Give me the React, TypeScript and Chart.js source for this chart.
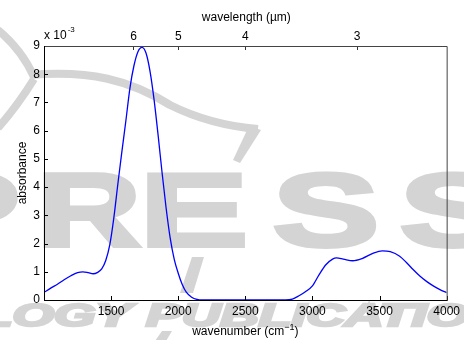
import { useEffect, useRef } from "react";
import { Chart, registerables } from "chart.js";

Chart.register(...registerables);

// wavenumber (cm^-1) and absorbance (x 10^-3)
const wavenumber = [
  1000, 1050, 1100, 1150, 1200, 1250, 1290, 1330, 1366, 1400, 1430, 1460, 1490, 1520, 1550, 1580,
  1610, 1640, 1670, 1700, 1730, 1760, 1790, 1820, 1850, 1880, 1910, 1940, 1970, 2000, 2030, 2060,
  2100, 2140, 2180, 2400, 2700, 2800, 2850, 2900, 2950, 3000, 3050, 3100, 3150, 3180, 3230, 3300,
  3370, 3450, 3520, 3580, 3650, 3700, 3750, 3800, 3850, 3900, 3950, 4000,
];
const absorbance = [
  0.27, 0.42, 0.56, 0.72, 0.86, 0.97, 1.0, 0.97, 0.93, 0.98, 1.1, 1.4, 1.95, 2.9, 4.1, 5.25,
  6.35, 7.5, 8.3, 8.8, 8.95, 8.75, 8.1, 7.1, 5.85, 4.5, 3.25, 2.2, 1.45, 0.95, 0.55, 0.28,
  0.1, 0.02, 0, 0, 0, 0, 0.03, 0.15, 0.3, 0.5, 0.9, 1.25, 1.45, 1.49, 1.45, 1.39,
  1.47, 1.65, 1.74, 1.71, 1.55, 1.33, 1.08, 0.85, 0.66, 0.5, 0.37, 0.26,
];
const wavenumberTicks = [1500, 2000, 2500, 3000, 3500, 4000];
const wavelengthTicks = [6, 5, 4, 3];
const absorbanceTicks = [0, 1, 2, 3, 4, 5, 6, 7, 8, 9];

const FONT = "'Liberation Sans', Arial, Helvetica, sans-serif";
const WM = "rgb(212,212,212)";

function stretched(
  ctx: CanvasRenderingContext2D,
  text: string,
  measureText: string,
  left: number,
  right: number,
  baseline: number,
  thicken: number
) {
  const m = ctx.measureText(measureText);
  const inkL = -m.actualBoundingBoxLeft;
  const inkR = m.actualBoundingBoxRight;
  const sx = (right - left) / (inkR - inkL);
  ctx.save();
  ctx.translate(left - inkL * sx, baseline);
  ctx.scale(sx, 1);
  ctx.fillText(text, 0, 0);
  if (thicken > 0) {
    ctx.lineWidth = thicken;
    ctx.lineJoin = "miter";
    ctx.strokeText(text, 0, 0);
  }
  ctx.restore();
}

export default function App() {
  const ref = useRef<HTMLCanvasElement>(null);

  useEffect(() => {
    const canvas = ref.current!;

    const decor = {
      id: "decor",
      beforeDraw(chart: any) {
        const ctx: CanvasRenderingContext2D = chart.ctx;
        ctx.save();
        ctx.fillStyle = "#fff";
        ctx.fillRect(0, 0, chart.width, chart.height);
        // watermark
        ctx.fillStyle = WM;
        ctx.strokeStyle = WM;
        ctx.textAlign = "left";
        ctx.textBaseline = "alphabetic";
        ctx.font = `bold 104px ${FONT}`;
        const letters: [string, number, number][] = [
          ["P", -75, 17],
          ["R", 43, 140],
          ["E", 147, 245],
          ["S", 275, 376],
          ["S", 402, 503],
        ];
        for (const [t, l, r] of letters) stretched(ctx, t, t, l + 2, r - 2, 246, 4);
        ctx.font = `italic bold 31px ${FONT}`;
        stretched(ctx, "LOGY PUBLICATIONS", "LOGY PUBLICATIO", -20, 468, 326, 2.5);
        // swoosh
        ctx.lineWidth = 8;
        ctx.lineCap = "butt";
        ctx.beginPath();
        ctx.moveTo(-2, 30);
        ctx.quadraticCurveTo(22, 50, 34, 77);
        ctx.stroke();
        ctx.beginPath();
        ctx.moveTo(34, 79);
        ctx.quadraticCurveTo(18, 105, -2, 128);
        ctx.stroke();
        ctx.beginPath();
        ctx.moveTo(30, 75);
        ctx.bezierCurveTo(90, 70, 130, 80, 170, 105);
        ctx.quadraticCurveTo(210, 125, 258, 129);
        ctx.stroke();
        ctx.beginPath();
        ctx.moveTo(249, 126);
        ctx.lineTo(261, 130);
        ctx.lineTo(240, 163);
        ctx.lineTo(233, 160);
        ctx.closePath();
        ctx.fill();
        ctx.beginPath();
        ctx.moveTo(192, 257);
        ctx.lineTo(204, 257);
        ctx.lineTo(193, 293);
        ctx.lineTo(180, 293);
        ctx.closePath();
        ctx.fill();
        ctx.beginPath();
        ctx.moveTo(162, 331);
        ctx.lineTo(172, 331);
        ctx.lineTo(166, 341);
        ctx.lineTo(155, 341);
        ctx.closePath();
        ctx.fill();
        ctx.restore();
      },
      afterDraw(chart: any) {
        const ctx: CanvasRenderingContext2D = chart.ctx;
        const { left, right, top, bottom } = chart.chartArea;
        const xs = chart.scales.x;
        const xt = chart.scales.x2;
        const ys = chart.scales.y;
        ctx.save();
        // ticks (inside)
        ctx.lineWidth = 1;
        ctx.strokeStyle = "#000";
        ctx.beginPath();
        for (const t of xs.ticks) {
          const px = Math.round(xs.getPixelForValue(t.value)) + 0.5;
          ctx.moveTo(px, bottom);
          ctx.lineTo(px, bottom - 4);
        }
        for (const t of ys.ticks) {
          const py = Math.round(ys.getPixelForValue(t.value)) + 0.5;
          ctx.moveTo(left, py);
          ctx.lineTo(left + 4, py);
        }
        ctx.stroke();
        ctx.strokeStyle = "#333";
        ctx.beginPath();
        for (const t of xt.ticks) {
          const px = Math.round(xt.getPixelForValue(t.value)) + 0.5;
          ctx.moveTo(px, top);
          ctx.lineTo(px, top + 4);
        }
        ctx.stroke();
        // box
        ctx.strokeStyle = "#444";
        ctx.beginPath();
        ctx.moveTo(left, top + 0.5);
        ctx.lineTo(right + 0.5, top + 0.5);
        ctx.lineTo(right + 0.5, bottom + 0.5);
        ctx.stroke();
        ctx.strokeStyle = "#000";
        ctx.beginPath();
        ctx.moveTo(left + 0.5, top);
        ctx.lineTo(left + 0.5, bottom + 0.5);
        ctx.lineTo(right + 1, bottom + 0.5);
        ctx.stroke();

        // titles
        ctx.fillStyle = "#000";
        ctx.textBaseline = "alphabetic";
        ctx.font = `12px ${FONT}`;
        const cx = (left + right) / 2;
        ctx.textAlign = "center";
        ctx.fillText("wavelength (\u00b5m)", cx + 1, 21);

        // x 10^-3
        ctx.textAlign = "left";
        ctx.font = `12px ${FONT}`;
        ctx.fillText("x 10", left, 38.5);
        const w10 = ctx.measureText("x 10").width;
        ctx.font = `8px ${FONT}`;
        ctx.fillText("-3", left + w10 + 1, 32);

        // bottom title with superscript
        ctx.font = `12px ${FONT}`;
        const a = "wavenumber (cm";
        const c = ")";
        const wa = ctx.measureText(a).width;
        const wc = ctx.measureText(c).width;
        ctx.font = `9px ${FONT}`;
        const b = "\u22121";
        const wb = ctx.measureText(b).width;
        const x0 = cx - (wa + wb + wc) / 2;
        ctx.font = `12px ${FONT}`;
        ctx.fillText(a, x0, 335);
        ctx.font = `9px ${FONT}`;
        ctx.fillText(b, x0 + wa, 330);
        ctx.font = `12px ${FONT}`;
        ctx.fillText(c, x0 + wa + wb, 335);

        // y title
        ctx.save();
        ctx.translate(26, (top + bottom) / 2);
        ctx.rotate(-Math.PI / 2);
        ctx.textAlign = "center";
        ctx.fillText("absorbance", 0, 0);
        ctx.restore();
        ctx.restore();
      },
    };

    const tickFont = { family: FONT, size: 12 };

    const chart = new Chart(canvas, {
      type: "line",
      data: {
        datasets: [
          {
            data: wavenumber.map((x, i) => ({ x, y: absorbance[i] })),
            borderColor: "#0000ff",
            borderWidth: 1.3,
            pointRadius: 0,
            fill: false,
            cubicInterpolationMode: "monotone",
          },
        ],
      },
      options: {
        responsive: false,
        animation: false,
        layout: { padding: { left: 0, right: 16, top: 0, bottom: 0 } },
        plugins: { legend: { display: false }, tooltip: { enabled: false } },
        scales: {
          x: {
            type: "linear",
            position: "bottom",
            min: 1000,
            max: 4000,
            afterBuildTicks: (s: any) => {
              s.ticks = wavenumberTicks.map((v) => ({ value: v }));
            },
            afterFit: (s: any) => {
              s.height = 40;
            },
            ticks: {
              font: tickFont,
              color: "#000",
              padding: 4,
              maxRotation: 0,
              autoSkip: false,
              callback: (v: any) => String(v),
            },
            grid: { display: false, drawTicks: false },
            border: { display: false },
          },
          x2: {
            type: "linear",
            axis: "x",
            position: "top",
            min: 1000,
            max: 4000,
            afterBuildTicks: (s: any) => {
              s.ticks = wavelengthTicks.map((w) => ({ value: 10000 / w }));
            },
            afterFit: (s: any) => {
              s.height = 46;
            },
            ticks: {
              font: tickFont,
              color: "#000",
              padding: 2,
              maxRotation: 0,
              autoSkip: false,
              callback: (v: any) => String(Math.round(10000 / Number(v))),
            },
            grid: { display: false, drawTicks: false },
            border: { display: false },
          },
          y: {
            type: "linear",
            position: "left",
            min: 0,
            max: 9,
            afterBuildTicks: (s: any) => {
              s.ticks = absorbanceTicks.map((v) => ({ value: v }));
            },
            afterFit: (s: any) => {
              s.width = 44;
            },
            ticks: { font: tickFont, color: "#000", padding: 4, autoSkip: false, callback: (v: any) => String(v) },
            grid: { display: false, drawTicks: false },
            border: { display: false },
          },
        },
      } as any,
      plugins: [decor],
    });
    return () => chart.destroy();
  }, []);

  return (
    <div style={{ position: "absolute", left: 0, top: 0, width: 464, height: 340 }}>
      <canvas ref={ref} width={464} height={340} style={{ display: "block", width: 464, height: 340 }} />
    </div>
  );
}
